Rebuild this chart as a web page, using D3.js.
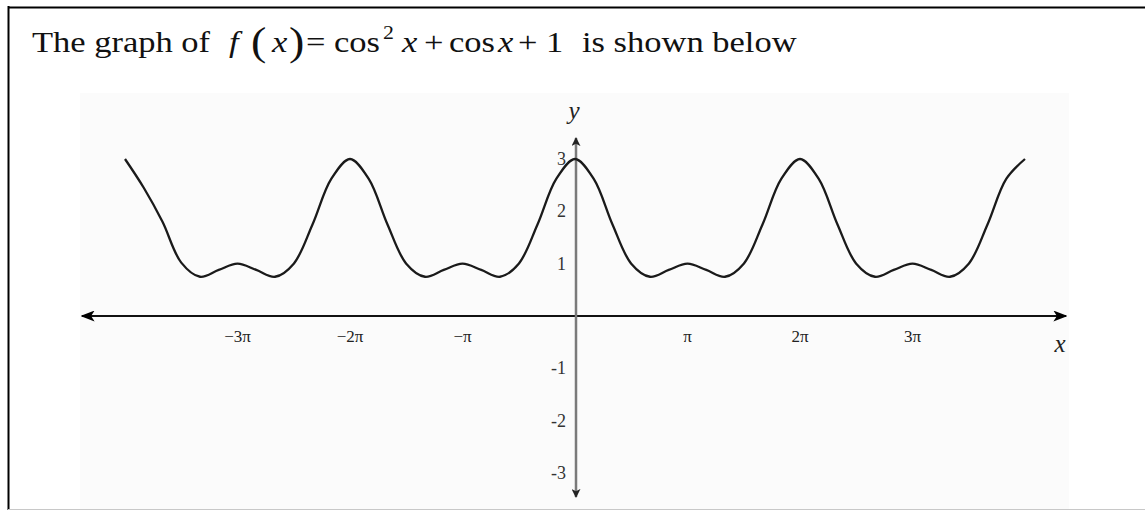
<!DOCTYPE html>
<html>
<head>
<meta charset="utf-8">
<script src="https://cdn.jsdelivr.net/npm/d3@7"></script>
<style>
  body { margin: 0; background: #fff; }
  svg { display: block; }
  text { font-family: "Liberation Serif", "Times New Roman", serif; }
</style>
</head>
<body>
<svg id="graph" width="1145" height="510"></svg>
<script>
(function() {

// points, x in multiples of pi
const curveX = [
  -4, -23/6, -11/3, -7/2, -10/3, -19/6, -3, -17/6, -8/3, -5/2, -7/3, -13/6,
  -2, -11/6, -5/3, -3/2, -4/3, -7/6, -1, -5/6, -2/3, -1/2, -1/3, -1/6,
  0, 1/6, 1/3, 1/2, 2/3, 5/6, 1, 7/6, 4/3, 3/2, 5/3, 11/6,
  2, 13/6, 7/3, 5/2, 8/3, 17/6, 3, 19/6, 10/3, 7/2, 11/3, 23/6, 4
];
const curveY = [
  3, 2.45, 1.8, 1.02, 0.75, 0.88, 1.0, 0.88, 0.75, 1.0, 1.75, 2.62,
  3, 2.62, 1.75, 1.0, 0.75, 0.88, 1.0, 0.88, 0.75, 1.0, 1.75, 2.62,
  3, 2.62, 1.75, 1.0, 0.75, 0.88, 1.0, 0.88, 0.75, 1.0, 1.75, 2.62,
  3, 2.62, 1.75, 1.0, 0.75, 0.88, 1.0, 0.88, 0.75, 1.0, 1.75, 2.62, 3
];

const xTicks = [-3, -2, -1, 1, 2, 3];
const xTickLabels = ['\u22123\u03c0', '\u22122\u03c0', '\u2212\u03c0', '\u03c0', '2\u03c0', '3\u03c0'];
const yTicks = [3, 2, 1, -1, -2, -3];
const yTickLabels = ['3', '2', '1', '-1', '-2', '-3'];

// title pieces: text, left edge, italic?, size, baseline shift
const titleParts = [
  ['The graph of', 32, false, 30, 0],
  ['f', 229, true, 30, 0],
  ['(', 251, false, 40, 3],
  ['x', 272, true, 30, 0],
  [')', 289, false, 40, 3],
  ['=', 306, false, 30, 0],
  ['cos', 334, false, 30, 0],
  ['2', 383, false, 19, -13],
  ['x', 402, true, 30, 0],
  ['+', 424, false, 30, 0],
  ['cos', 449, false, 30, 0],
  ['x', 498, true, 30, 0],
  ['+', 518, false, 30, 0],
  ['1', 546, false, 30, 0],
  ['is shown below', 582, false, 30, 0]
];

const svg = d3.select('#graph');

const x = d3.scaleLinear()
  .domain([-4 * Math.PI, 4 * Math.PI])
  .range([125, 1025]);

const y = d3.scaleLinear()
  .domain([0, 3])
  .range([316, 159]);

// page frame
svg.append('line')
  .attr('x1', 8.5).attr('x2', 8.5).attr('y1', 6).attr('y2', 510)
  .attr('stroke', '#000').attr('stroke-width', 2);
svg.append('line')
  .attr('x1', 8).attr('x2', 1145).attr('y1', 7.5).attr('y2', 7.5)
  .attr('stroke', '#000').attr('stroke-width', 2);
svg.append('line')
  .attr('x1', 8).attr('x2', 1145).attr('y1', 509.5).attr('y2', 509.5)
  .attr('stroke', '#c8c8c8').attr('stroke-width', 1);

// title (the scan is stretched sideways a little)
svg.selectAll('.title')
  .data(titleParts)
  .enter().append('text')
    .attr('class', 'title')
    .attr('transform', d => `translate(${d[1]},${52 + d[4]}) scale(1.15,1)`)
    .attr('font-size', d => d[3])
    .attr('font-style', d => d[2] ? 'italic' : 'normal')
    .attr('fill', '#111')
    .text(d => d[0]);

// plot background
svg.append('rect')
  .attr('x', 80).attr('y', 93)
  .attr('width', 989).attr('height', 416)
  .attr('fill', '#fbfbfb');

const defs = svg.append('defs');
function arrow(id, color, len, wid) {
  defs.append('marker')
    .attr('id', id)
    .attr('viewBox', '0 0 10 10')
    .attr('refX', 9).attr('refY', 5)
    .attr('markerWidth', len).attr('markerHeight', wid)
    .attr('markerUnits', 'userSpaceOnUse')
    .attr('preserveAspectRatio', 'none')
    .attr('orient', 'auto-start-reverse')
    .append('path')
      .attr('d', 'M0,0 L10,5 L0,10 L2.5,5 Z')
      .attr('fill', color);
}
arrow('arrX', '#000', 14, 11);
arrow('arrY', '#222', 9, 9);

// x axis
svg.append('line')
  .attr('x1', 82).attr('x2', 1066)
  .attr('y1', y(0)).attr('y2', y(0))
  .attr('stroke', '#111').attr('stroke-width', 2)
  .attr('marker-start', 'url(#arrX)')
  .attr('marker-end', 'url(#arrX)');

// y axis
svg.append('line')
  .attr('x1', x(0) + 1).attr('x2', x(0) + 1)
  .attr('y1', 497).attr('y2', 138)
  .attr('stroke', '#7a7a7a').attr('stroke-width', 2.5)
  .attr('marker-start', 'url(#arrY)')
  .attr('marker-end', 'url(#arrY)');

// tick labels
svg.selectAll('.xlabel')
  .data(xTicks)
  .enter().append('text')
    .attr('class', 'xlabel')
    .attr('x', d => x(d * Math.PI))
    .attr('y', 342)
    .attr('text-anchor', 'middle')
    .attr('font-size', 17)
    .attr('fill', '#222')
    .text((d, i) => xTickLabels[i]);

svg.selectAll('.ylabel')
  .data(yTicks)
  .enter().append('text')
    .attr('class', 'ylabel')
    .attr('x', x(0) - 9)
    .attr('y', d => y(d) + 6)
    .attr('text-anchor', 'end')
    .attr('font-size', 18)
    .attr('fill', '#333')
    .text((d, i) => yTickLabels[i]);

svg.append('text')
  .attr('x', x(0) - 1).attr('y', 119)
  .attr('text-anchor', 'middle')
  .attr('font-size', 25)
  .attr('font-style', 'italic')
  .attr('fill', '#222')
  .text('y');

svg.append('text')
  .attr('x', 1060).attr('y', 352)
  .attr('text-anchor', 'middle')
  .attr('font-size', 25)
  .attr('font-style', 'italic')
  .attr('fill', '#222')
  .text('x');

// the curve
const points = curveX.map((d, i) => [d * Math.PI, curveY[i]]);
const line = d3.line()
  .x(d => x(d[0]))
  .y(d => y(d[1]))
  .curve(d3.curveCatmullRom.alpha(0.5));

svg.append('path')
  .datum(points)
  .attr('d', line)
  .attr('fill', 'none')
  .attr('stroke', '#1a1a1a')
  .attr('stroke-width', 2.3)
  .attr('stroke-linejoin', 'round');

})();
</script>
</body>
</html>
